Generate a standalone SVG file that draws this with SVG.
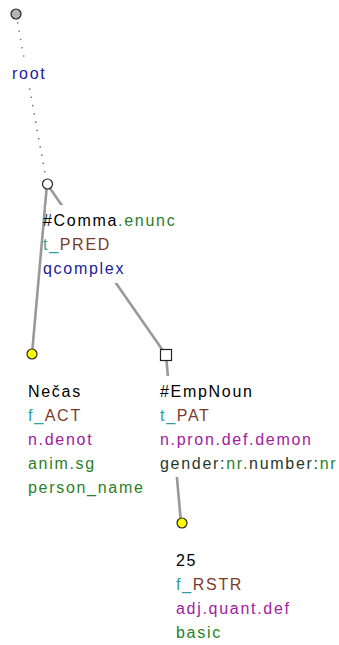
<svg xmlns="http://www.w3.org/2000/svg" width="339" height="645" viewBox="0 0 339 645">
<style>
text{font-family:"Liberation Sans",Arial,sans-serif;font-size:16px;letter-spacing:1.7px;fill:#000}
.bg{fill:#fff}
.e{stroke:#999;stroke-width:2.6;fill:none}
.dot{stroke:#777;stroke-width:1.6;stroke-dasharray:1.4 7;fill:none}
.n{stroke:#222;stroke-width:1.2}
.tc{fill:#2aa0a0}.fn{fill:#7b3b2b}.pu{fill:#a020a0}.gr{fill:#2a802a}.bl{fill:#2020a0}.dk{fill:#1f3a2c}
</style>
<rect width="339" height="645" fill="#fff"/>
<g id="connectors">
<line class="dot" x1="16" y1="14" x2="47" y2="184"/>
<line class="e" x1="47" y1="184" x2="32" y2="354"/>
<line class="e" x1="47" y1="184" x2="166" y2="355"/>
<line class="e" x1="166" y1="355" x2="181" y2="523"/>
</g>
<g id="root">
<rect class="bg" x="10" y="62" width="38" height="26"/>
<circle class="n" cx="16" cy="14" r="5" fill="#b4b4b4"/>
<text x="12" y="79" class="bl">root</text>
</g>
<g id="comma">
<rect class="bg" x="46" y="205" width="140" height="78"/>
<circle class="n" cx="47.5" cy="184" r="5" fill="#fff" stroke-width="1.6"/>
<text x="43" y="226">#Comma<tspan class="gr">.enunc</tspan></text>
<text x="43" y="250"><tspan class="tc">t_</tspan><tspan class="fn">PRED</tspan></text>
<text x="43" y="274" class="bl">qcomplex</text>
</g>
<g id="necas">
<circle class="n" cx="32" cy="354" r="5" fill="#ffff00"/>
<text x="28" y="397">Nečas</text>
<text x="28" y="421"><tspan class="tc">f_</tspan><tspan class="fn">ACT</tspan></text>
<text x="28" y="445" class="pu">n.denot</text>
<text x="28" y="469" class="gr">anim.sg</text>
<text x="28" y="493" class="gr">person_name</text>
</g>
<g id="empnoun">
<rect class="bg" x="158" y="376" width="181" height="101"/>
<rect class="n" x="160.5" y="349.5" width="11" height="11" fill="#fff"/>
<text x="160" y="397">#EmpNoun</text>
<text x="160" y="421"><tspan class="tc">t_</tspan><tspan class="fn">PAT</tspan></text>
<text x="160" y="445" class="pu">n.pron.def.demon</text>
<text x="160" y="469"><tspan class="dk">gender:</tspan><tspan class="gr">nr.</tspan><tspan class="dk">number:</tspan><tspan class="gr">nr</tspan></text>
</g>
<g id="n25">
<circle class="n" cx="182" cy="523" r="5" fill="#ffff00"/>
<text x="176" y="566">25</text>
<text x="176" y="590"><tspan class="tc">f_</tspan><tspan class="fn">RSTR</tspan></text>
<text x="176" y="614" class="pu">adj.quant.def</text>
<text x="176" y="638" class="gr">basic</text>
</g>
</svg>
